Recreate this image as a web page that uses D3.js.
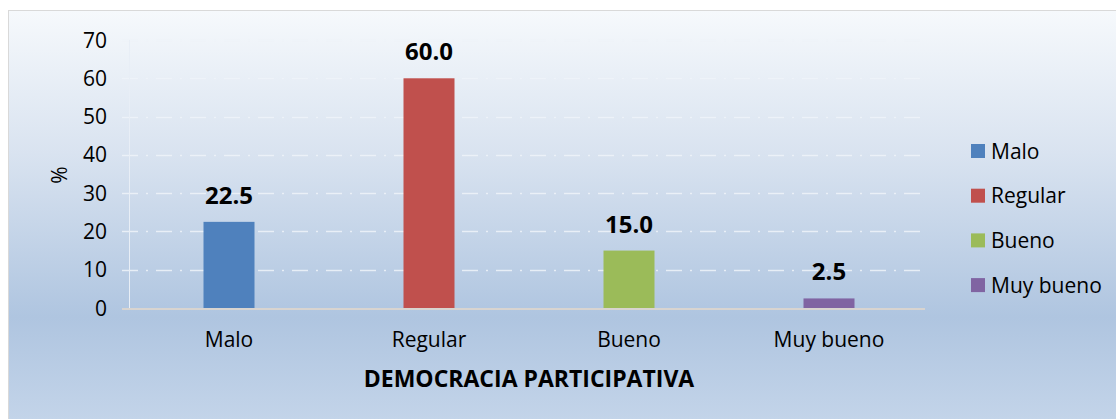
<!DOCTYPE html>
<html>
<head>
<meta charset="utf-8">
<script src="https://d3js.org/d3.v7.min.js"></script>
<style>
  body { margin: 0; background: #fff; }
  svg { display: block; }
  text { font-family: "Open Sans", "Noto Sans", sans-serif; fill: #000; }
</style>
</head>
<body>
<div id="chart"></div>
<script>
var categories = ["Malo", "Regular", "Bueno", "Muy bueno"];
var values = [22.5, 60.0, 15.0, 2.5];
var colors = ["#4f81bd", "#c0504d", "#9bbb59", "#8064a2"];
var yTicks = [0, 10, 20, 30, 40, 50, 60, 70];

var width = 1116, height = 419;
var margin = {top: 40, left: 129, right: 187, bottom: 111};

var svg = d3.select("#chart").append("svg")
  .attr("width", width)
  .attr("height", height);

var defs = svg.append("defs");
var grad = defs.append("linearGradient")
  .attr("id", "bg").attr("x1", 0).attr("y1", 0).attr("x2", 0).attr("y2", 1);
grad.append("stop").attr("offset", "0%").attr("stop-color", "#f6f9fc");
grad.append("stop").attr("offset", "35%").attr("stop-color", "#d9e3f0");
grad.append("stop").attr("offset", "75%").attr("stop-color", "#afc5e0");
grad.append("stop").attr("offset", "100%").attr("stop-color", "#c3d4e9");

// chart area background with border
svg.append("rect")
  .attr("x", 8.5).attr("y", 10.5)
  .attr("width", width - 8).attr("height", height - 10)
  .attr("fill", "url(#bg)")
  .attr("stroke", "#d9d9d9");

var x = d3.scaleBand()
  .domain(categories)
  .range([margin.left, width - margin.right])
  .paddingInner(0.745)
  .paddingOuter(0.3725);

var y = d3.scaleLinear()
  .domain([0, 70])
  .range([height - margin.bottom, margin.top]);

// gridlines
svg.append("g").selectAll("line")
  .data(yTicks.filter(d => d > 0))
  .join("line")
  .attr("x1", margin.left - 7).attr("x2", width - margin.right - 4)
  .attr("y1", d => Math.round(y(d)) + 0.5).attr("y2", d => Math.round(y(d)) + 0.5)
  .attr("stroke", "#eef3f9")
  .attr("stroke-opacity", 0.85)
  .attr("stroke-width", 1.3)
  .attr("stroke-dasharray", "16,8,2,8");

// y axis line
svg.append("line")
  .attr("x1", margin.left + 0.5).attr("x2", margin.left + 0.5)
  .attr("y1", y(70)).attr("y2", y(0))
  .attr("stroke", "#e8eef6");

// y tick labels
svg.append("g").selectAll("text")
  .data(yTicks)
  .join("text")
  .attr("x", margin.left - 22)
  .attr("y", d => y(d))
  .attr("dy", "0.36em")
  .attr("text-anchor", "end")
  .attr("font-size", 21)
  .text(d => d);

// bars
svg.append("g").selectAll("rect")
  .data(values)
  .join("rect")
  .attr("x", (d, i) => x(categories[i]))
  .attr("width", x.bandwidth())
  .attr("y", d => y(d))
  .attr("height", d => y(0) - y(d))
  .attr("fill", (d, i) => colors[i]);

// x axis line
svg.append("line")
  .attr("x1", margin.left - 7).attr("x2", width - margin.right - 4)
  .attr("y1", y(0) + 1).attr("y2", y(0) + 1)
  .attr("stroke", "#d8d4d0")
  .attr("stroke-width", 2);

// value labels
svg.append("g").selectAll("text")
  .data(values)
  .join("text")
  .attr("x", (d, i) => x(categories[i]) + x.bandwidth() / 2)
  .attr("y", d => y(d) - 18)
  .attr("text-anchor", "middle")
  .attr("font-size", 24)
  .attr("font-weight", "bold")
  .text(d => d.toFixed(1));

// category labels
svg.append("g").selectAll("text")
  .data(categories)
  .join("text")
  .attr("x", d => x(d) + x.bandwidth() / 2)
  .attr("y", 347)
  .attr("text-anchor", "middle")
  .attr("font-size", 21)
  .text(d => d);

// axis titles
svg.append("text")
  .attr("x", (margin.left + width - margin.right) / 2)
  .attr("y", 387)
  .attr("text-anchor", "middle")
  .attr("font-size", 23)
  .attr("font-weight", "bold")
  .text("DEMOCRACIA PARTICIPATIVA");

svg.append("text")
  .attr("transform", "translate(67,175) rotate(-90)")
  .attr("text-anchor", "middle")
  .attr("font-size", 21)
  .text("%");

// legend
var legend = svg.append("g").selectAll("g")
  .data(categories)
  .join("g")
  .attr("transform", (d, i) => "translate(971," + (151 + i * 44.7) + ")");
legend.append("rect")
  .attr("x", 0).attr("y", -7)
  .attr("width", 14).attr("height", 14)
  .attr("fill", (d, i) => colors[i]);
legend.append("text")
  .attr("x", 20).attr("dy", "0.36em")
  .attr("font-size", 21)
  .text(d => d);
</script>
</body>
</html>
